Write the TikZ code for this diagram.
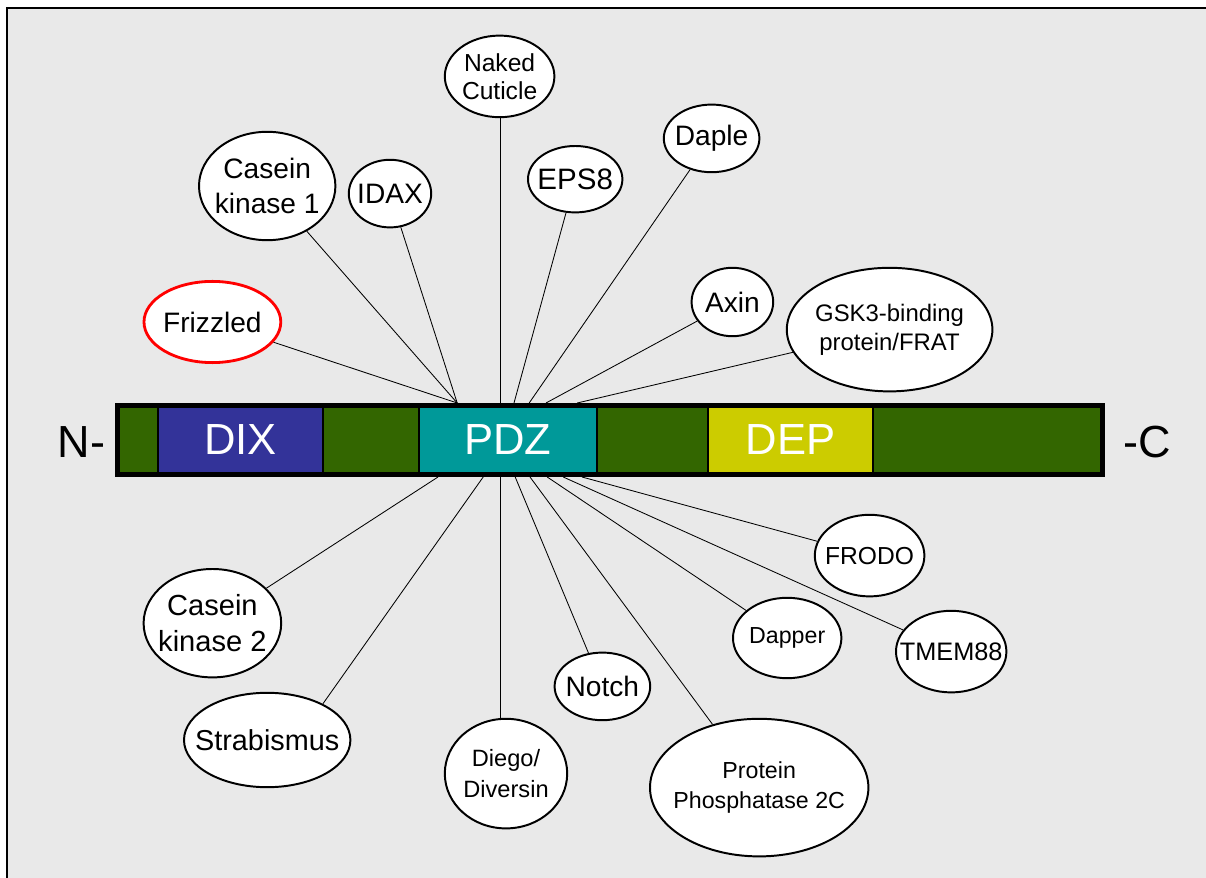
\documentclass[tikz,border=0pt]{standalone}
\usepackage{fontspec}
\setmainfont{Liberation Sans}
\usetikzlibrary{shapes.geometric}

\definecolor{panel}{HTML}{E9E9E9}
\definecolor{linker}{HTML}{336600}
\definecolor{dixcol}{HTML}{333399}
\definecolor{pdzcol}{HTML}{009999}
\definecolor{depcol}{HTML}{CCCC00}

\tikzset{
  partner/.style={ellipse, draw, fill=white, line width=1.4pt, inner sep=-2cm, align=center},
  segbox/.style={rectangle, draw=black, line width=1.4pt, inner sep=0pt, minimum height=1.68cm, text=white, font=\fontsize{31}{32}\selectfont},
  link/.style={line width=0.6pt}
}

\begin{document}
\begin{tikzpicture}
	\useasboundingbox (0,0) rectangle (30.15,-21.95);
	\draw[line width=1.4pt, fill=panel] (0.175,-0.2) rectangle (31,-23);

	% partners above the bar
	\node[partner, minimum width=2.74cm, minimum height=2.04cm, font=\fontsize{17.5}{20}\selectfont] (naked) at (12.49,-1.91) {Naked\\Cuticle};
	\node[partner, minimum width=3.41cm, minimum height=2.71cm, font=\fontsize{20}{25}\selectfont] (ckone) at (6.68,-4.65) {Casein\\kinase 1};
	\node[partner, minimum width=2.06cm, minimum height=1.69cm, font=\fontsize{20}{25}\selectfont] (idax) at (9.75,-4.84) {IDAX};
	\node[partner, minimum width=2.36cm, minimum height=1.66cm, font=\fontsize{21}{26}\selectfont] (eps) at (14.38,-4.48) {EPS8};
	\node[partner, minimum width=2.39cm, minimum height=1.69cm, font=\fontsize{20}{25}\selectfont] (daple) at (17.79,-3.46) {Daple};
	\node[partner, minimum width=2.04cm, minimum height=1.71cm, font=\fontsize{20}{25}\selectfont] (axin) at (18.31,-7.55) {Axin};
	\node[partner, minimum width=5.14cm, minimum height=3.09cm, font=\fontsize{17}{21}\selectfont] (frat) at (22.24,-8.24) {GSK3-binding\\protein/FRAT};
	\node[partner, draw=red, line width=2pt, minimum width=3.42cm, minimum height=2.03cm, font=\fontsize{20}{25}\selectfont] (fz) at (5.31,-8.05) {Frizzled};

	% partners below the bar
	\node[partner, minimum width=3.44cm, minimum height=2.71cm, font=\fontsize{20.7}{25.5}\selectfont] (cktwo) at (5.31,-15.58) {Casein\\kinase 2};
	\node[partner, minimum width=4.16cm, minimum height=2.36cm, font=\fontsize{20.5}{25}\selectfont] (strab) at (6.68,-18.5) {Strabismus};
	\node[partner, minimum width=3.06cm, minimum height=2.74cm, font=\fontsize{16.8}{21.5}\selectfont] (diego) at (12.65,-19.34) {Diego/\\Diversin};
	\node[partner, minimum width=2.39cm, minimum height=1.69cm, font=\fontsize{20}{25}\selectfont] (notch) at (15.06,-17.16) {Notch};
	\node[partner, minimum width=5.46cm, minimum height=3.44cm, font=\fontsize{16.5}{21.5}\selectfont] (ppc) at (18.98,-19.69) {Protein\\Phosphatase 2C};
	\node[partner, minimum width=2.71cm, minimum height=2.01cm, font=\fontsize{16.5}{21}\selectfont] (dapper) at (19.68,-15.95) {Dapper};
	\node[partner, minimum width=2.74cm, minimum height=2.04cm, font=\fontsize{17.5}{22}\selectfont] (frodo) at (21.74,-13.89) {FRODO};
	\node[partner, minimum width=2.76cm, minimum height=2.04cm, font=\fontsize{18}{22}\selectfont] (tmem) at (23.78,-16.29) {TMEM88};

	% where the lines meet the bar
	\coordinate (tleft) at (11.43,-10.075);
	\coordinate (tnaked) at (12.5,-10.075);
	\coordinate (teps) at (12.85,-10.075);
	\coordinate (tdaple) at (13.23,-10.075);
	\coordinate (taxin) at (13.65,-10.075);
	\coordinate (tfrat) at (14.43,-10.075);
	\coordinate (bck) at (10.95,-11.925);
	\coordinate (bstrab) at (12.08,-11.925);
	\coordinate (bdiego) at (12.5,-11.925);
	\coordinate (bnotch) at (12.88,-11.925);
	\coordinate (bppc) at (13.25,-11.925);
	\coordinate (bdapper) at (13.68,-11.925);
	\coordinate (btmem) at (14.08,-11.925);
	\coordinate (bfrodo) at (14.55,-11.925);

	\draw[link] (fz) -- (tleft);
	\draw[link] (ckone) -- (tleft);
	\draw[link] (idax) -- (tleft);
	\draw[link] (tnaked) -- (tnaked |- naked.south);
	\draw[link] (eps) -- (teps);
	\draw[link] (daple) -- (tdaple);
	\draw[link] (axin) -- (taxin);
	\draw[link] (frat) -- (tfrat);

	\draw[link] (cktwo) -- (bck);
	\draw[link] (strab.33) -- (bstrab);
	\draw[link] (bdiego) -- (bdiego |- diego.north);
	\draw[link] (notch) -- (bnotch);
	\draw[link] (ppc) -- (bppc);
	\draw[link] (dapper) -- (bdapper);
	\draw[link] (tmem) -- (btmem);
	\draw[link] (frodo) -- (bfrodo);

	% the protein
	\fill[linker] (2.94,-10.14) rectangle (27.56,-11.86);
	\node[segbox, fill=dixcol, minimum width=4.12cm] (dix) at (6.01,-11.0) {DIX};
	\node[segbox, fill=pdzcol, minimum width=4.45cm] (pdz) at (12.7,-11.0) {PDZ};
	\node[segbox, fill=depcol, minimum width=4.12cm] (dep) at (19.76,-11.0) {DEP};
	\draw[line width=3.5pt] (2.94,-10.14) rectangle (27.56,-11.86);

	\node[anchor=east, font=\fontsize{32}{33}\selectfont] (nend) at (2.76,-11.05) {N-};
	\node[anchor=west, font=\fontsize{32}{33}\selectfont] (cend) at (27.97,-11.05) {-C};
\end{tikzpicture}
\end{document}
